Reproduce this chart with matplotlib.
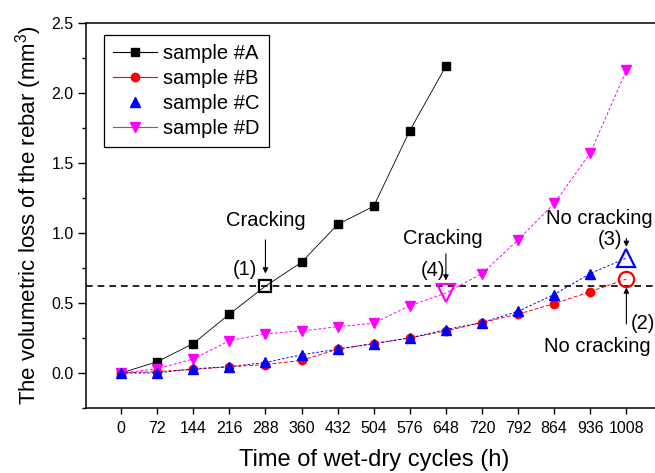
import matplotlib
matplotlib.use('Agg')
import matplotlib.pyplot as plt
from matplotlib.lines import Line2D
from matplotlib.ticker import MultipleLocator

plt.rcParams['font.family'] = ['Liberation Sans', 'DejaVu Sans']
plt.rcParams['mathtext.fontset'] = 'custom'
plt.rcParams['mathtext.rm'] = 'Liberation Sans'

# Time of wet-dry cycles (h)
hours = [0, 72, 144, 216, 288, 360, 432, 504, 576, 648, 720, 792, 864, 936, 1008]
hours_a = hours[:10]

# Volumetric loss of the rebar (mm3)
loss_a = [0, 0.08, 0.21, 0.42, 0.62, 0.79, 1.06, 1.19, 1.73, 2.19]
loss_b = [0, 0.01, 0.025, 0.045, 0.06, 0.09, 0.17, 0.21, 0.25, 0.30, 0.36, 0.42, 0.495, 0.58, 0.67]
loss_c = [0, 0.0, 0.03, 0.045, 0.075, 0.13, 0.17, 0.21, 0.25, 0.31, 0.36, 0.44, 0.56, 0.71, 0.82]
loss_d = [0, 0.03, 0.10, 0.23, 0.28, 0.30, 0.33, 0.355, 0.48, 0.57, 0.71, 0.95, 1.21, 1.57, 2.16]

threshold = 0.62
labels = ['sample #A', 'sample #B', 'sample #C', 'sample #D']

fig = plt.figure(figsize=(6.55, 4.73), dpi=100)
ax = fig.add_axes([0.132, 0.1374, 0.8794, 0.8146])

# index of the point that gets the big open marker
crack_a = 4
crack_d = 9
last = 14

def others(n, skip):
    return [i for i in range(n) if i != skip]

ax.plot(hours_a, loss_a, color='black', lw=0.6, marker='s', ms=5.5,
        markevery=others(len(hours_a), crack_a), zorder=3)
ax.plot(hours, loss_b, color='red', lw=0.7, ls=(0, (4, 2)), marker='o', ms=6,
        markevery=others(len(hours), last), zorder=3)
ax.plot(hours, loss_c, color='blue', lw=0.7, ls=(0, (2.5, 2)), marker='^', ms=7,
        markevery=others(len(hours), last), zorder=4)
ax.plot(hours, loss_d, color='magenta', lw=0.7, ls=(0, (3, 2)), marker='v', ms=7,
        markevery=others(len(hours), crack_d), zorder=3)

# open markers at the cracking / end points
ax.plot(hours_a[crack_a], loss_a[crack_a], marker='s', ms=8, mfc='none', mec='black', mew=1.6, zorder=5)
ax.plot(hours[crack_d], loss_d[crack_d], marker='v', ms=13, mfc='none', mec='magenta', mew=1.6, zorder=5)
ax.plot(hours[last], loss_c[last], marker='^', ms=13, mfc='none', mec='blue', mew=1.6, zorder=5)
ax.plot(hours[last], loss_b[last], marker='o', ms=11, mfc='none', mec='red', mew=1.6, zorder=5)

ax.axhline(threshold, color='black', lw=1.2, ls=(0, (4, 3)), zorder=2)

# annotations
arrow = dict(arrowstyle='-|>', color='black', lw=0.8, mutation_scale=8, shrinkA=0, shrinkB=0)
fs = 14.5
ax.text(288, 1.09, 'Cracking', fontsize=fs, ha='center', va='center')
ax.annotate('', xy=(288, 0.71), xytext=(288, 0.95), arrowprops=arrow)
ax.text(247, 0.74, '(1)', fontsize=fs, ha='center', va='center')

ax.text(642, 0.96, 'Cracking', fontsize=fs, ha='center', va='center')
ax.annotate('', xy=(648, 0.66), xytext=(648, 0.85), arrowprops=arrow)
ax.text(622, 0.73, '(4)', fontsize=fs, ha='center', va='center')

ax.text(847, 1.10, 'No cracking', fontsize=fs, ha='left', va='center')
ax.annotate('', xy=(1008, 0.90), xytext=(1008, 0.96), arrowprops=arrow)
ax.text(975, 0.95, '(3)', fontsize=fs, ha='center', va='center')

ax.annotate('', xy=(1008, 0.61), xytext=(1008, 0.35), arrowprops=arrow)
ax.text(1041, 0.35, '(2)', fontsize=fs, ha='center', va='center')
ax.text(843, 0.19, 'No cracking', fontsize=fs, ha='left', va='center')

ax.set_xlim(-69, 1080)
ax.set_ylim(-0.25, 2.5)
ax.set_xticks(hours)
ax.set_xticklabels([str(h) for h in hours])
ax.yaxis.set_major_locator(MultipleLocator(0.5))
ax.yaxis.set_minor_locator(MultipleLocator(0.25))
ax.yaxis.set_major_formatter(matplotlib.ticker.FormatStrFormatter('%.1f'))
ax.tick_params(axis='x', direction='out', length=4.5, width=1, labelsize=11.5, pad=5)
ax.tick_params(axis='y', which='major', direction='out', length=5.8, width=1, labelsize=11.5, pad=3.5)
ax.tick_params(axis='y', which='minor', direction='out', length=3, width=1)
for s in ax.spines.values():
    s.set_linewidth(1.1)

ax.set_xlabel('Time of wet-dry cycles (h)', fontsize=17, labelpad=9)
ax.set_ylabel('The volumetric loss of the rebar (mm$^3$)', fontsize=16, labelpad=5)

handles = [
    Line2D([], [], color='black', lw=0.8, marker='s', ms=5.5),
    Line2D([], [], color='red', lw=0.8, marker='o', ms=6),
    Line2D([], [], color='blue', lw=0, marker='^', ms=7),
    Line2D([], [], color='magenta', lw=0.8, marker='v', ms=7),
]
leg = ax.legend(handles, labels, loc='upper left', bbox_to_anchor=(104 / 655, 1 - 35 / 473),
                bbox_transform=fig.transFigure, borderaxespad=0, fontsize=14.5,
                handlelength=2.2, handletextpad=0.3, labelspacing=0.3, borderpad=0.45,
                fancybox=False, framealpha=1, edgecolor='black')
leg.get_frame().set_linewidth(0.9)

fig.savefig('out.png', dpi=100)
